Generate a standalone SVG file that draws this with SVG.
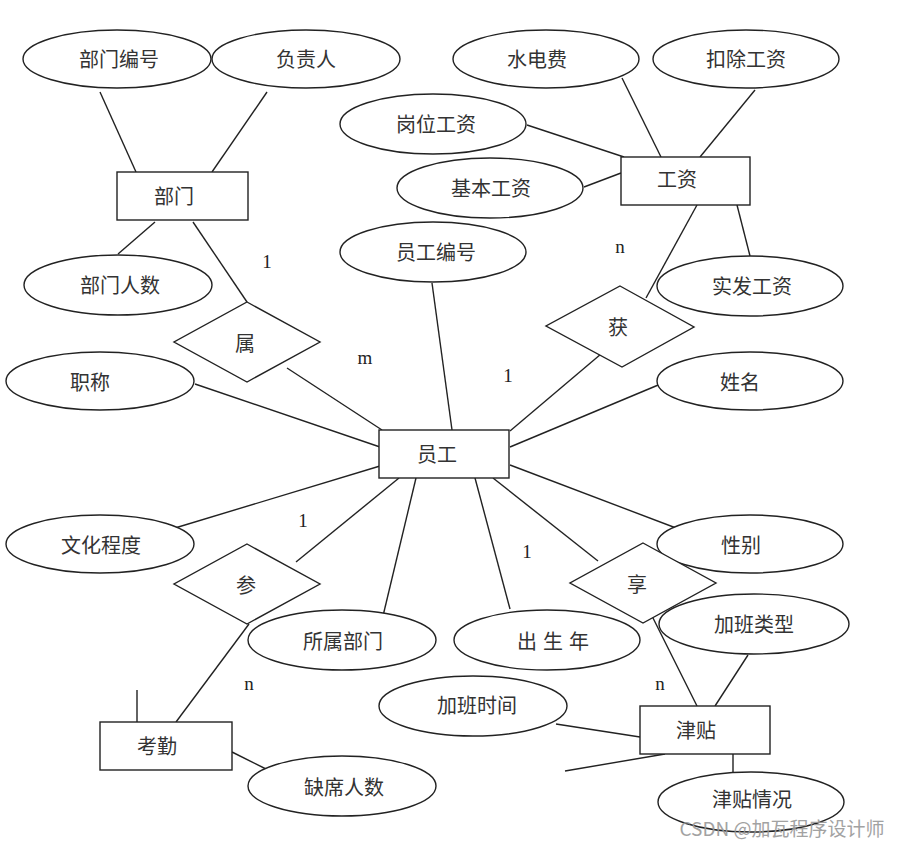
<svg xmlns="http://www.w3.org/2000/svg" width="903" height="842" viewBox="0 0 903 842">
<style>
.s{fill:#fff;stroke:#222;stroke-width:1.4}
.t{font-family:"Noto Sans CJK SC","Liberation Sans",sans-serif;font-size:20px;fill:#333;text-anchor:middle;dominant-baseline:central}
.c{font-family:"Liberation Serif",serif;font-size:19px;fill:#222;text-anchor:middle;dominant-baseline:central}
#connectors line{stroke:#222;stroke-width:1.4}
</style>
<rect width="903" height="842" fill="#fff"/>
<g id="connectors">
<line x1="100" y1="92" x2="136" y2="172"/>
<line x1="267" y1="92" x2="212" y2="172"/>
<line x1="155" y1="222" x2="118" y2="254"/>
<line x1="193" y1="222" x2="247" y2="302"/>
<line x1="287" y1="368" x2="382" y2="430"/>
<line x1="622" y1="78" x2="661" y2="157"/>
<line x1="755" y1="90" x2="700" y2="157"/>
<line x1="527" y1="125" x2="624" y2="157"/>
<line x1="584" y1="187" x2="621" y2="173"/>
<line x1="737" y1="205" x2="750" y2="256"/>
<line x1="697" y1="205" x2="646" y2="298"/>
<line x1="432" y1="283" x2="452" y2="430"/>
<line x1="601" y1="354" x2="510" y2="431"/>
<line x1="195" y1="384" x2="380" y2="447"/>
<line x1="663" y1="383" x2="510" y2="447"/>
<line x1="175" y1="528" x2="380" y2="466"/>
<line x1="676" y1="528" x2="510" y2="465"/>
<line x1="399" y1="478" x2="296" y2="562"/>
<line x1="416" y1="478" x2="383" y2="616"/>
<line x1="475" y1="478" x2="510" y2="609"/>
<line x1="493" y1="478" x2="598" y2="561"/>
<line x1="249" y1="624" x2="176" y2="722"/>
<line x1="137" y1="690" x2="137" y2="722"/>
<line x1="232" y1="752" x2="268" y2="770"/>
<line x1="650" y1="612" x2="697" y2="706"/>
<line x1="748" y1="655" x2="715" y2="706"/>
<line x1="556" y1="724" x2="640" y2="737"/>
<line x1="565" y1="771" x2="665" y2="754"/>
<line x1="733" y1="754" x2="733" y2="773"/>
</g>
<g id="部门编号"><ellipse class="s" cx="117" cy="59" rx="94" ry="29"/><text class="t" x="119" y="58">部门编号</text></g>
<g id="负责人"><ellipse class="s" cx="306" cy="59" rx="94" ry="29"/><text class="t" x="306" y="58">负责人</text></g>
<g id="水电费"><ellipse class="s" cx="546" cy="59" rx="93" ry="29"/><text class="t" x="537" y="58">水电费</text></g>
<g id="扣除工资"><ellipse class="s" cx="746" cy="59" rx="93" ry="29"/><text class="t" x="746" y="58">扣除工资</text></g>
<g id="岗位工资"><ellipse class="s" cx="433" cy="124" rx="93" ry="30"/><text class="t" x="436" y="123">岗位工资</text></g>
<g id="基本工资"><ellipse class="s" cx="490" cy="188" rx="93" ry="30"/><text class="t" x="491" y="187">基本工资</text></g>
<g id="工资"><rect class="s" x="621" y="157" width="129" height="48"/><text class="t" x="677" y="178">工资</text></g>
<g id="员工编号"><ellipse class="s" cx="433" cy="252" rx="93" ry="30"/><text class="t" x="436" y="251">员工编号</text></g>
<g id="实发工资"><ellipse class="s" cx="750" cy="286" rx="93" ry="30"/><text class="t" x="752" y="285">实发工资</text></g>
<g id="部门"><rect class="s" x="117" y="172" width="131" height="48"/><text class="t" x="174" y="195">部门</text></g>
<g id="部门人数"><ellipse class="s" cx="118" cy="285" rx="94" ry="30"/><text class="t" x="120" y="284">部门人数</text></g>
<g id="属"><polygon class="s" points="247,302 320,342 247,382 174,342"/><text class="t" x="245" y="342">属</text></g>
<g id="获"><polygon class="s" points="620,286 694,327 622,367 546,326"/><text class="t" x="618" y="326">获</text></g>
<g id="员工"><rect class="s" x="379" y="430" width="130" height="48"/><text class="t" x="437" y="453">员工</text></g>
<g id="职称"><ellipse class="s" cx="100" cy="381" rx="94" ry="29"/><text class="t" x="90" y="381">职称</text></g>
<g id="姓名"><ellipse class="s" cx="750" cy="381" rx="93" ry="29"/><text class="t" x="740" y="381">姓名</text></g>
<g id="文化程度"><ellipse class="s" cx="100" cy="544" rx="94" ry="29"/><text class="t" x="101" y="544">文化程度</text></g>
<g id="性别"><ellipse class="s" cx="750" cy="544" rx="93" ry="29"/><text class="t" x="741" y="544">性别</text></g>
<g id="参"><polygon class="s" points="247,544 320,584 247,624 174,584"/><text class="t" x="246" y="584">参</text></g>
<g id="享"><polygon class="s" points="643,543 716,583 643,623 570,583"/><text class="t" x="637" y="583">享</text></g>
<g id="所属部门"><ellipse class="s" cx="342" cy="640" rx="94" ry="30"/><text class="t" x="343" y="640">所属部门</text></g>
<g id="出生年"><ellipse class="s" cx="547" cy="640" rx="93" ry="30"/><text class="t" x="556" y="640" style="letter-spacing:6px">出生年</text></g>
<g id="加班类型"><ellipse class="s" cx="754" cy="624" rx="95" ry="30"/><text class="t" x="754" y="623">加班类型</text></g>
<g id="加班时间"><ellipse class="s" cx="473" cy="706" rx="94" ry="30"/><text class="t" x="477" y="704">加班时间</text></g>
<g id="考勤"><rect class="s" x="100" y="722" width="132" height="48"/><text class="t" x="157" y="745">考勤</text></g>
<g id="津贴"><rect class="s" x="640" y="706" width="130" height="48"/><text class="t" x="696" y="729">津贴</text></g>
<g id="缺席人数"><ellipse class="s" cx="342" cy="786" rx="94" ry="30"/><text class="t" x="344" y="786">缺席人数</text></g>
<g id="津贴情况"><ellipse class="s" cx="751" cy="802" rx="93" ry="30"/><text class="t" x="752" y="798">津贴情况</text></g>
<g id="labels">
<text class="c" x="267" y="261">1</text>
<text class="c" x="365" y="357">m</text>
<text class="c" x="508" y="375">1</text>
<text class="c" x="620" y="246">n</text>
<text class="c" x="303" y="520">1</text>
<text class="c" x="527" y="551">1</text>
<text class="c" x="249" y="683">n</text>
<text class="c" x="660" y="683">n</text>
</g>
<text x="782" y="827" style="font-family:'Noto Sans CJK SC','Liberation Sans',sans-serif;font-size:19px;fill:#999;text-anchor:middle;dominant-baseline:central;opacity:0.9">CSDN @加瓦程序设计师</text>
</svg>
